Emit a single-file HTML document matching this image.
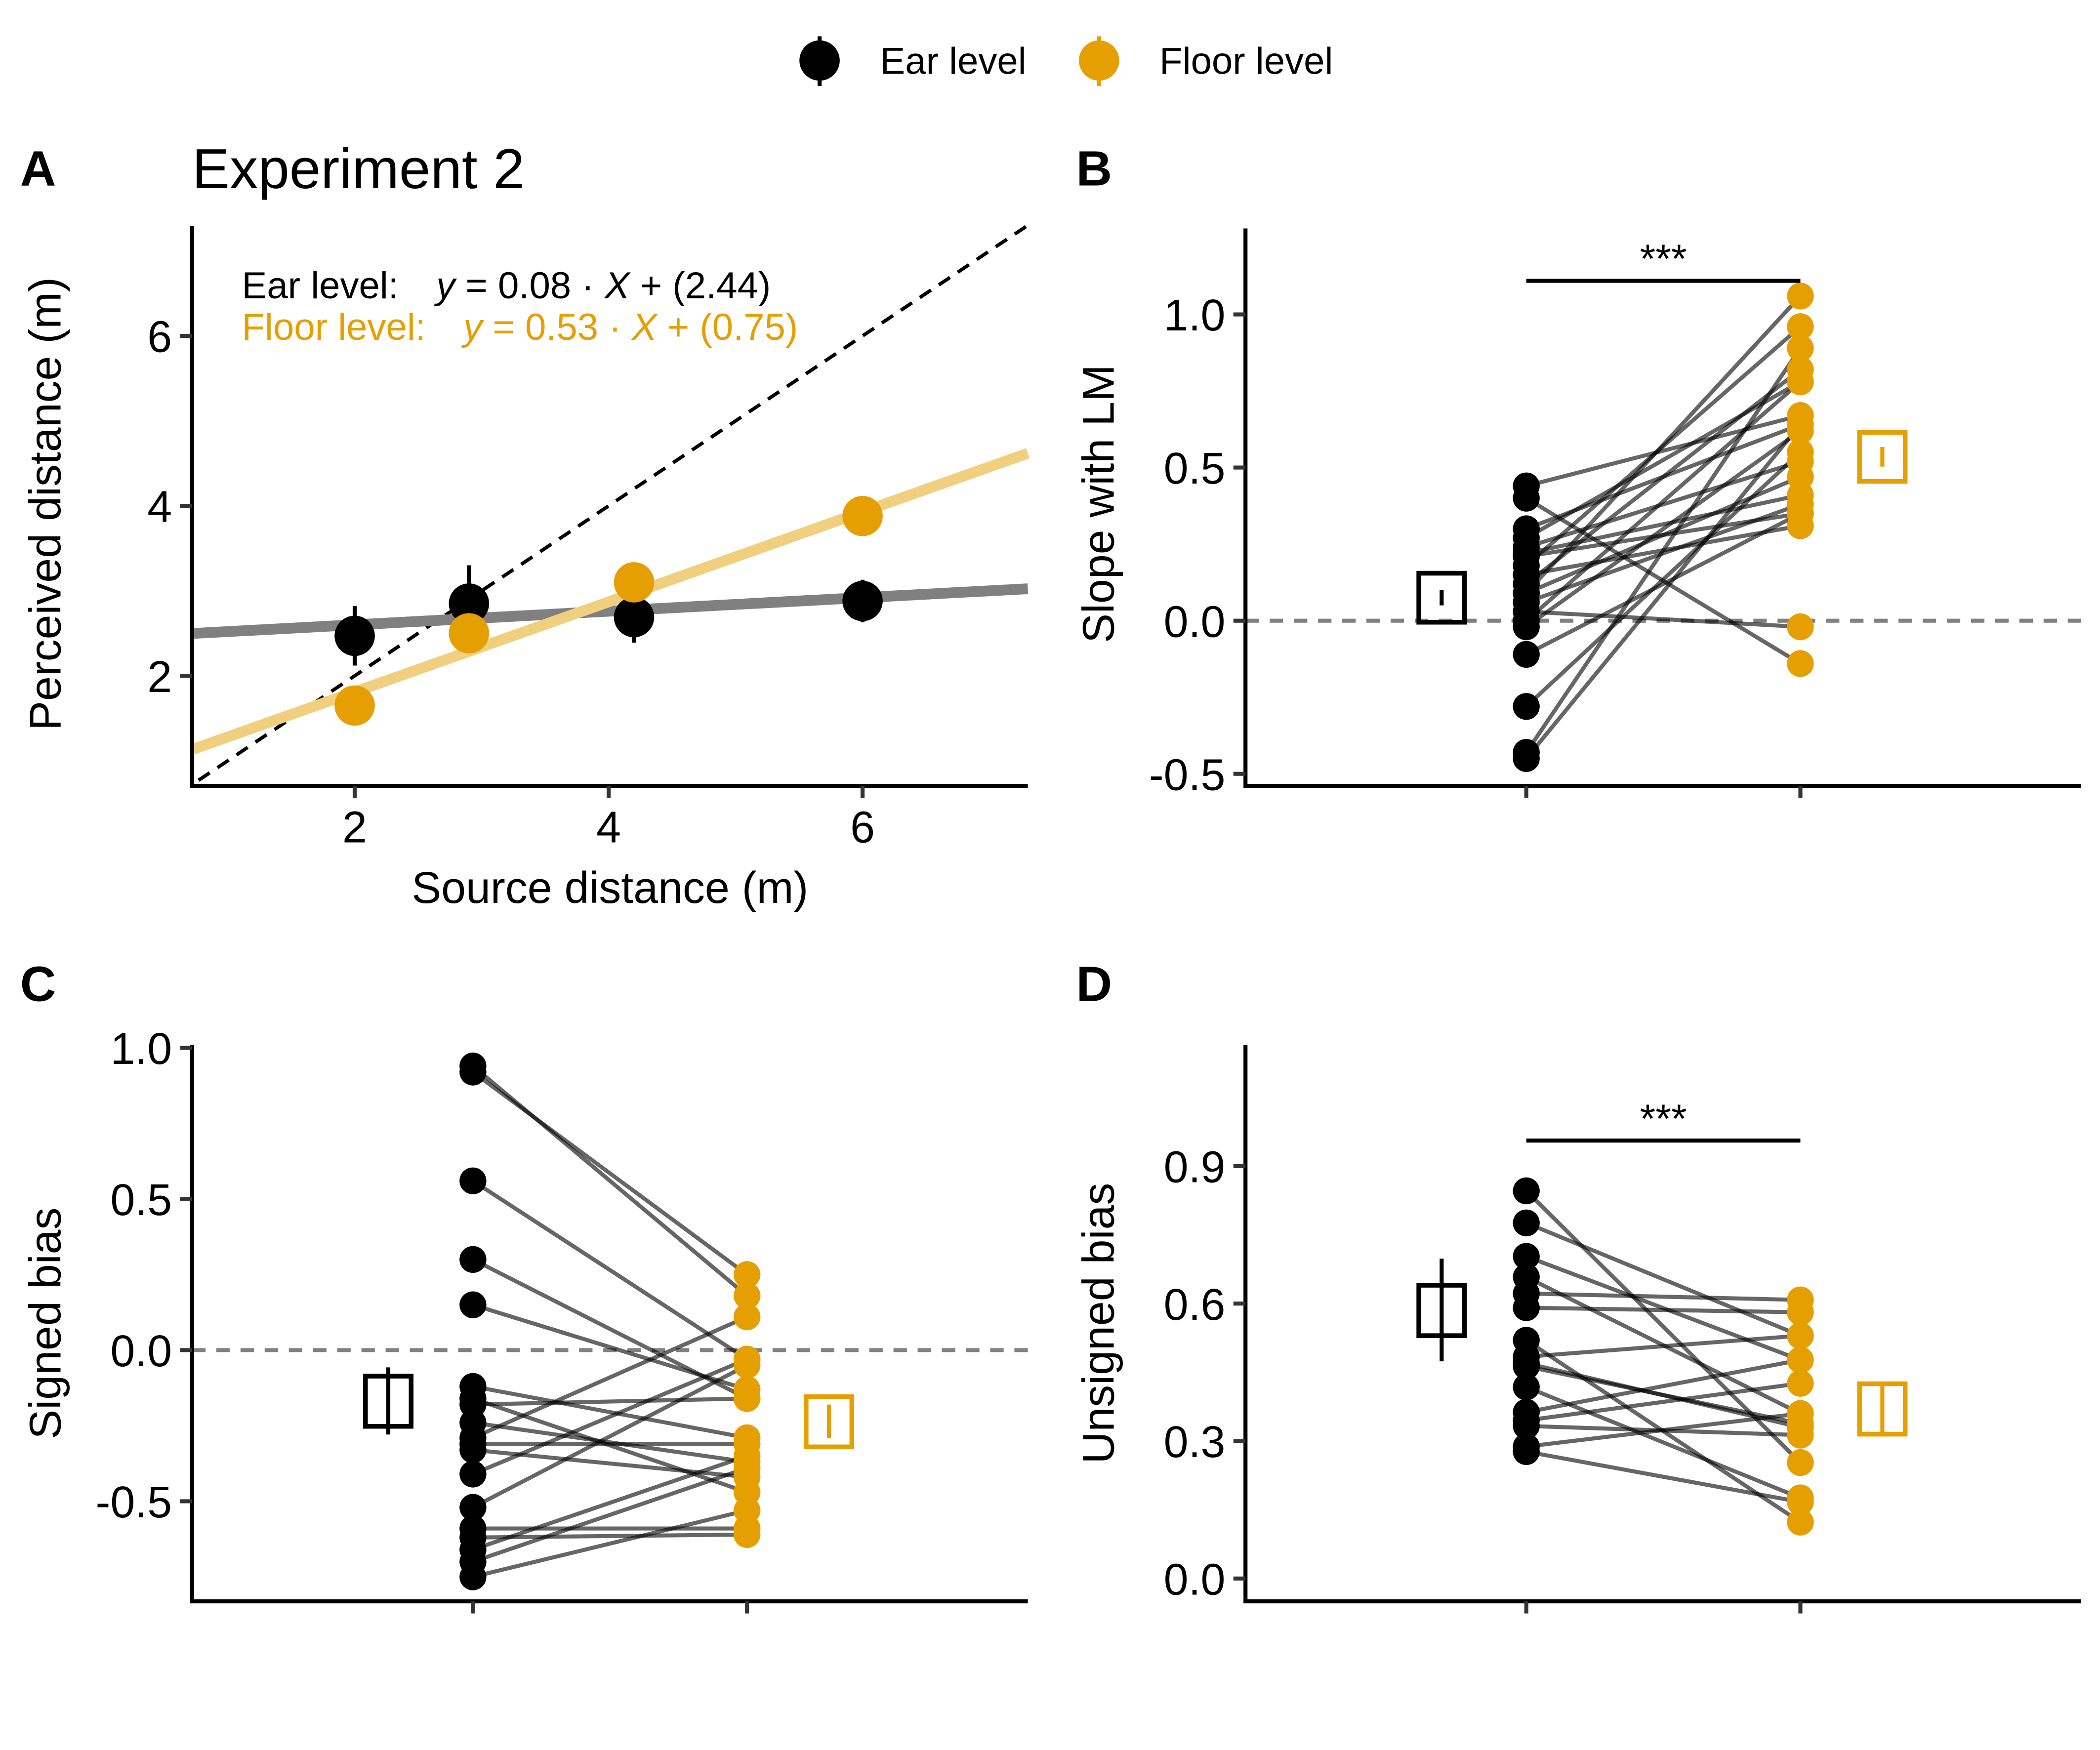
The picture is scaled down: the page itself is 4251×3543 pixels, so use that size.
<!DOCTYPE html>
<html><head><meta charset="utf-8"><style>
html,body{margin:0;padding:0;background:#fff;}
svg{display:block;font-family:"Liberation Sans",Arial,sans-serif;}
</style></head><body>
<svg id="fig" width="4251" height="3543" viewBox="0 0 1563 1302.6" xmlns="http://www.w3.org/2000/svg">
<rect width="1563" height="1302.6" fill="#fff"/>
<g id="legend">
  <g>
    <line x1="610" y1="27" x2="610" y2="64" stroke="#000" stroke-width="3"/>
    <circle cx="610" cy="45" r="15" fill="#000"/>
    <text x="655" y="55" font-size="28">Ear level</text>
  </g>
  <g>
    <line x1="818" y1="27" x2="818" y2="64" stroke="#E69F00" stroke-width="3"/>
    <circle cx="818" cy="45" r="15" fill="#E69F00"/>
    <text x="863" y="55" font-size="28">Floor level</text>
  </g>
</g>
<text x="15" y="138" font-size="37" font-weight="bold">A</text>
<text x="801" y="138" font-size="37" font-weight="bold">B</text>
<text x="15" y="745" font-size="37" font-weight="bold">C</text>
<text x="801" y="745" font-size="37" font-weight="bold">D</text>
<text x="143" y="140" font-size="42">Experiment 2</text>
<g id="pA"></g>
<g id="pB"></g>
<g id="pC"></g>
<g id="pD"></g>
</svg>
<script>
// ---- Panel A data ----
const aDistances = [2, 2.9, 4.2, 6];
const aEarMeans = [2.47, 2.85, 2.69, 2.88];
const aEarErr = [0.35, 0.45, 0.3, 0.25];
const aFloorMeans = [1.65, 2.5, 3.1, 3.88];
const aFloorErr = [0.12, 0.12, 0.15, 0.15];
const aEarFit = [0.08, 2.44];
const aFloorFit = [0.53, 0.75];
const aXTicks = [2, 4, 6];
const aYTicks = [2, 4, 6];
// ---- Panel B data (slope with LM), per subject ----
const bEar = [0.44,0.40,0.30,0.27,0.24,0.21,0.22,0.12,0.09,0.06,0.03,0.09,-0.02,-0.11,-0.28,-0.43,-0.45,0.15,0.18,0.00];
const bFloor = [0.67,-0.14,0.64,0.78,0.52,0.35,0.41,0.82,0.47,0.38,-0.02,1.06,0.62,0.35,0.55,0.89,0.64,0.31,0.96,0.78];
const bBoxEar = [-0.005, 0.155, 0.05, 0.10];
const bBoxFloor = [0.455, 0.615, 0.503, 0.567];
const bYTicks = [-0.5, 0.0, 0.5, 1.0];
const bYLabels = ["-0.5", "0.0", "0.5", "1.0"];
// ---- Panel C data (signed bias) ----
const cEar = [0.94,0.92,0.56,0.30,0.15,-0.12,-0.18,-0.16,-0.29,-0.31,-0.33,-0.41,-0.52,-0.59,-0.62,-0.66,-0.70,-0.75,-0.24];
const cFloor = [0.18,0.25,-0.03,-0.16,-0.13,-0.29,-0.16,-0.47,0.11,-0.31,-0.42,-0.03,-0.05,-0.59,-0.61,-0.35,-0.39,-0.53,-0.37];
const cBoxEar = [-0.252, -0.086, -0.279, -0.057];
const cBoxFloor = [-0.32, -0.154, -0.29, -0.18];
const cYTicks = [-0.5, 0.0, 0.5, 1.0];
const cYLabels = ["-0.5", "0.0", "0.5", "1.0"];
// ---- Panel D data (unsigned bias) ----
const dEar = [0.846,0.776,0.703,0.658,0.622,0.591,0.520,0.484,0.463,0.418,0.363,0.345,0.333,0.288,0.277,0.47];
const dFloor = [0.253,0.530,0.477,0.360,0.608,0.581,0.123,0.530,0.338,0.176,0.477,0.426,0.313,0.360,0.167,0.33];
const dBoxEar = [0.53, 0.64, 0.474, 0.698];
const dBoxFloor = [0.315, 0.425, 0.315, 0.425];
const dYTicks = [0.0, 0.3, 0.6, 0.9];
const dYLabels = ["0.0", "0.3", "0.6", "0.9"];

const NS = "http://www.w3.org/2000/svg";
const ORANGE = "#E69F00";
function mk(tag, attrs, parent) {
  const e = document.createElementNS(NS, tag);
  for (const k in attrs) e.setAttribute(k, attrs[k]);
  parent.appendChild(e);
  return e;
}
function lin(d0, d1, p0, p1) { return v => p0 + (v - d0) * (p1 - p0) / (d1 - d0); }

// ===== Panel A =====
(function () {
  const g = document.getElementById('pA');
  const L = 143, R = 765, T = 168, B = 585;
  const x = lin(2, 6, 264, 642);
  const y = lin(2, 6, 503, 250);
  const xmin = 0.72, xmax = 7.3;
  const idl = mk('line', {x1: x(0.77), y1: y(0.77), x2: x(xmax), y2: y(xmax), stroke: '#000', 'stroke-width': 2.6, 'stroke-dasharray': '10,7'}, g);
  
  
  const fe = mk('line', {x1: L, y1: y(aEarFit[0]*xmin+aEarFit[1]), x2: R, y2: y(aEarFit[0]*xmax+aEarFit[1]), stroke: '#808080', 'stroke-width': 8}, g);
  
  
  const ff = mk('line', {x1: L, y1: y(aFloorFit[0]*xmin+aFloorFit[1]), x2: R, y2: y(aFloorFit[0]*xmax+aFloorFit[1]), stroke: '#F0CF7F', 'stroke-width': 8}, g);
  
  
  aDistances.forEach((d, i) => {
    const l1 = mk('line', {x1: x(d), x2: x(d), y1: y(aEarMeans[i]-aEarErr[i]), y2: y(aEarMeans[i]+aEarErr[i]), stroke: '#000', 'stroke-width': 3}, g);
    
    
    const c1 = mk('circle', {cx: x(d), cy: y(aEarMeans[i]), r: 15, fill: '#000'}, g);
    
    
    const l2 = mk('line', {x1: x(d), x2: x(d), y1: y(aFloorMeans[i]-aFloorErr[i]), y2: y(aFloorMeans[i]+aFloorErr[i]), stroke: ORANGE, 'stroke-width': 3}, g);
    
    
    const c2 = mk('circle', {cx: x(d), cy: y(aFloorMeans[i]), r: 15, fill: ORANGE}, g);
    
    
  });
  const ax = mk('path', {d: `M${L},${T} V${B} H${R}`, fill: 'none', stroke: '#000', 'stroke-width': 3}, g);
  
  
  aXTicks.forEach(t => {
    mk('line', {x1: x(t), x2: x(t), y1: B, y2: B + 9, stroke: '#333', 'stroke-width': 3}, g);
    const tx = mk('text', {x: x(t), y: B + 42, 'font-size': 33, 'text-anchor': 'middle'}, g);
    tx.textContent = t;
    
    
  });
  aYTicks.forEach(t => {
    mk('line', {x1: L - 9, x2: L, y1: y(t), y2: y(t), stroke: '#333', 'stroke-width': 3}, g);
    const tx = mk('text', {x: L - 15, y: y(t) + 12, 'font-size': 33, 'text-anchor': 'end'}, g);
    tx.textContent = t;
    
    
  });
  const xt = mk('text', {x: 454, y: 672, 'font-size': 33, 'text-anchor': 'middle'}, g);
  xt.textContent = 'Source distance (m)';
  
  
  const yt = mk('text', {x: 0, y: 0, 'font-size': 33, 'text-anchor': 'middle', transform: 'translate(45,375) rotate(-90)'}, g);
  yt.textContent = 'Perceived distance (m)';
  
  
  const e1 = mk('text', {x: 180, y: 222, 'font-size': 28}, g);
  e1.innerHTML = 'Ear level:<tspan dx="28" font-style="italic">y</tspan> = 0.08 · <tspan font-style="italic">X</tspan> + (2.44)';
  
  
  const e2 = mk('text', {x: 180, y: 253, 'font-size': 28, fill: ORANGE}, g);
  e2.innerHTML = 'Floor level:<tspan dx="28" font-style="italic">y</tspan> = 0.53 · <tspan font-style="italic">X</tspan> + (0.75)';
  
  
})();

// ===== Paired panels =====
function paired(id, o) {
  const g = document.getElementById(id);
  const y = lin(o.t0, o.t1, o.p0, o.p1);
  const L = o.L, R = o.L + 622, T = o.T, B = o.B;
  const x1 = o.L + 209, x2 = o.L + 413;
  if (o.zero) {
    const z = mk('line', {x1: L, x2: R, y1: y(0), y2: y(0), stroke: '#808080', 'stroke-width': 3, 'stroke-dasharray': '10,8'}, g);
    
    
  }
  o.ear.forEach((v, i) => {
    const l = mk('line', {x1: x1, x2: x2, y1: y(v), y2: y(o.floor[i]), stroke: '#000', 'stroke-opacity': 0.6, 'stroke-width': 3}, g);
    
    
  });
  o.ear.forEach(v => {
    const c = mk('circle', {cx: x1, cy: y(v), r: 10, fill: '#000'}, g);
    
    
  });
  o.floor.forEach(v => {
    const c = mk('circle', {cx: x2, cy: y(v), r: 10, fill: ORANGE}, g);
    
    
  });
  [[o.boxEar, x1 - 63, '#000', 'ear-summary-box'], [o.boxFloor, x2 + 61, ORANGE, 'floor-summary-box']].forEach(([b, cx, col, nm]) => {
    const r = mk('rect', {x: cx - 17, y: y(b[1]), width: 34, height: y(b[0]) - y(b[1]), fill: 'none', stroke: col, 'stroke-width': 3.5}, g);
    
    
    const l = mk('line', {x1: cx, x2: cx, y1: y(b[2]), y2: y(b[3]), stroke: col, 'stroke-width': 3}, g);
    
    
  });
  if (o.sig !== undefined) {
    const s = mk('line', {x1: x1, x2: x2, y1: o.sig, y2: o.sig, stroke: '#000', 'stroke-width': 3}, g);
    
    
    const st = mk('text', {x: (x1 + x2) / 2, y: o.sig - 6, 'font-size': 30, 'text-anchor': 'middle'}, g);
    st.textContent = '***';
    
    
  }
  const ax = mk('path', {d: `M${L},${T} V${B} H${R}`, fill: 'none', stroke: '#000', 'stroke-width': 3}, g);
  
  
  [x1, x2].forEach(xx => mk('line', {x1: xx, x2: xx, y1: B, y2: B + 9, stroke: '#333', 'stroke-width': 3}, g));
  o.ticks.forEach((t, i) => {
    mk('line', {x1: L - 9, x2: L, y1: y(t), y2: y(t), stroke: '#333', 'stroke-width': 3}, g);
    const tx = mk('text', {x: L - 15, y: y(t) + 12, 'font-size': 33, 'text-anchor': 'end'}, g);
    tx.textContent = o.labels[i];
    
    
  });
  const yt = mk('text', {x: 0, y: 0, 'font-size': 33, 'text-anchor': 'middle', transform: `translate(${L - 98},${o.titleY}) rotate(-90)`}, g);
  yt.textContent = o.title;
  
  
}
paired('pB', {L: 927, T: 170, B: 585, t0: 0, t1: 1, p0: 462, p1: 234, zero: true, ear: bEar, floor: bFloor, boxEar: bBoxEar, boxFloor: bBoxFloor, ticks: bYTicks, labels: bYLabels, title: 'Slope with LM', titleY: 375, sig: 209});
paired('pC', {L: 143, T: 778, B: 1192, t0: 0, t1: 1, p0: 1005, p1: 780, zero: true, ear: cEar, floor: cFloor, boxEar: cBoxEar, boxFloor: cBoxFloor, ticks: cYTicks, labels: cYLabels, title: 'Signed bias', titleY: 985});
paired('pD', {L: 927, T: 778, B: 1192, t0: 0, t1: 0.9, p0: 1175, p1: 868, zero: false, ear: dEar, floor: dFloor, boxEar: dBoxEar, boxFloor: dBoxFloor, ticks: dYTicks, labels: dYLabels, title: 'Unsigned bias', titleY: 985, sig: 849});
</script>
</body></html>
